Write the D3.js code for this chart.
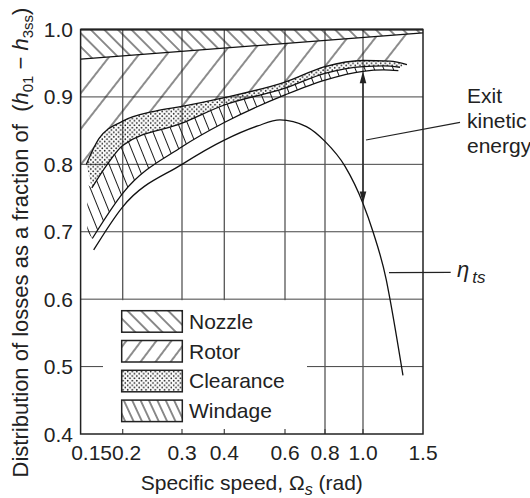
<!DOCTYPE html>
<html><head><meta charset="utf-8">
<script src="https://cdn.jsdelivr.net/npm/d3@7"></script>
<style>
body{margin:0;background:#fff}
svg{display:block}
text{font-family:"Liberation Sans",Arial,Helvetica,sans-serif;fill:#222}
</style>
</head><body>
<svg id="c" width="530" height="498"></svg>
<script>
// ---------- data ----------
const xTicks=[0.15,0.2,0.3,0.4,0.6,0.8,1.0,1.5];
const xTickLabels=["0.15","0.2","0.3","0.4","0.6","0.8","1.0","1.5"];
const yTicks=[0.4,0.5,0.6,0.7,0.8,0.9,1.0];
const yTickLabels=["0.4","0.5","0.6","0.7","0.8","0.9","1.0"];
const nozzleLine=[[0.15,0.956],[1.5,0.995]];
const clearanceTop=[[0.156,0.80],[0.17,0.838],[0.2,0.864],[0.25,0.879],[0.3,0.886],[0.4,0.899],[0.6,0.922],[0.8,0.945],[1.0,0.954],[1.2,0.953],[1.346,0.948]];
const clearanceBottom=[[0.162,0.765],[0.18,0.80],[0.2,0.828],[0.3,0.861],[0.4,0.888],[0.6,0.913],[0.8,0.935],[1.0,0.945],[1.15,0.946],[1.284,0.944]];
const windageBottom=[[0.1625,0.69],[0.2,0.757],[0.3,0.826],[0.4,0.862],[0.6,0.903],[0.8,0.925],[1.0,0.938],[1.15,0.940],[1.27,0.939]];
const etaTs=[[0.164,0.673],[0.2,0.737],[0.3,0.80],[0.4,0.836],[0.5,0.857],[0.58,0.866],[0.7,0.856],[0.8,0.834],[0.9,0.797],[1.0,0.742],[1.07,0.70],[1.17,0.629],[1.2,0.60],[1.31,0.487]];
const rotorLeftBottom=0.80;
const windageLeftX=0.157;
const arrowX=1.0;
const legendItems=["Nozzle","Rotor","Clearance","Windage"];

// ---------- setup ----------
const svg=d3.select("#c");
const x=d3.scaleLog().domain(xTicks).range([80.6,122.7,182,224.3,285,325,363,423]);
const y=d3.scaleLinear().domain([0.4,1.0]).range([434,29.5]);
const X0=x(0.15),X1=x(1.5),Y0=y(0.4),Y1=y(1.0);
const line=d3.line().x(d=>x(d[0])).y(d=>y(d[1])).curve(d3.curveMonotoneX);

const defs=svg.append("defs");
function hatch(id,spacing,angle,sw){
  const p=defs.append("pattern").attr("id",id).attr("patternUnits","userSpaceOnUse")
    .attr("width",spacing).attr("height",spacing).attr("patternTransform",`rotate(${angle})`);
  p.append("line").attr("x1",spacing/2).attr("y1",-1).attr("x2",spacing/2).attr("y2",spacing+1)
    .attr("stroke","#1a1a1a").attr("stroke-width",sw);
}
hatch("nozzle",9.6,-45,1);
hatch("rotor",22,38,1);
hatch("windage",8.8,-22,1);
hatch("rotorL",12,37,1);
hatch("windageL",7.6,-25,1);
const dp=defs.append("pattern").attr("id","dots").attr("patternUnits","userSpaceOnUse").attr("width",4.6).attr("height",4.6);
dp.append("circle").attr("cx",1.15).attr("cy",1.15).attr("r",0.85).attr("fill","#1a1a1a");
dp.append("circle").attr("cx",3.45).attr("cy",3.45).attr("r",0.85).attr("fill","#1a1a1a");

function sample(data){
  const p=svg.append("path").attr("d",line(data));
  const n=p.node(),L=n.getTotalLength(),pts=[];
  for(let s=0;s<L;s+=1){const q=n.getPointAtLength(s);pts.push([q.x,q.y]);}
  const e=n.getPointAtLength(L);pts.push([e.x,e.y]);
  p.remove();return pts;
}
const P=(a)=>"M"+a.map(p=>p[0].toFixed(2)+","+p[1].toFixed(2)).join("L")+"Z";

// ---------- grid ----------
const grid=svg.append("g").attr("stroke","#444").attr("stroke-width",1);
yTicks.filter(v=>v>0.4&&v<1.0).forEach(v=>grid.append("line").attr("x1",X0).attr("x2",X1).attr("y1",y(v)).attr("y2",y(v)));
xTicks.filter(v=>v>0.15&&v<1.5).forEach(v=>grid.append("line").attr("x1",x(v)).attr("x2",x(v)).attr("y1",Y1).attr("y2",Y0).attr("stroke","#555").attr("stroke-width",1.3));

// legend background
const legX0=103,legX1=307;
svg.append("rect").attr("x",legX0).attr("y",y(0.6)+1).attr("width",legX1-legX0).attr("height",Y0-y(0.6)-1).attr("fill","#fff");
// bottom ticks
xTicks.filter(v=>v>0.15&&v<1.5).forEach(v=>svg.append("line").attr("x1",x(v)).attr("x2",x(v)).attr("y1",Y0).attr("y2",Y0-5).attr("stroke","#444").attr("stroke-width",1.2));

// ---------- regions ----------
const sB=sample(clearanceTop),sC=sample(clearanceBottom),sD=sample(windageBottom);
const nozzlePoly=[[X0,Y1],[X1,Y1],[X1,y(nozzleLine[1][1])],[X0,y(nozzleLine[0][1])]];
svg.append("path").attr("d",P(nozzlePoly)).attr("fill","url(#nozzle)");
const rotorPoly=[[X0,y(nozzleLine[0][1])],[X1,y(nozzleLine[1][1])]].concat(sB.slice().reverse()).concat([[X0,y(rotorLeftBottom)]]);
svg.append("path").attr("d",P(rotorPoly)).attr("fill","url(#rotor)");
svg.append("path").attr("d",P(sB.concat(sC.slice().reverse()))).attr("fill","url(#dots)");
const wl=x(windageLeftX);
const windPoly=sC.concat(sD.slice().reverse()).concat([[wl,y(0.70)],[wl,y(0.77)]]);
svg.append("path").attr("d",P(windPoly)).attr("fill","url(#windage)");

// ---------- curves ----------
const cg=svg.append("g").attr("fill","none").attr("stroke","#111").attr("stroke-width",1.3);
cg.append("path").attr("d",d3.line().x(d=>x(d[0])).y(d=>y(d[1]))(nozzleLine));
[clearanceTop,clearanceBottom,windageBottom,etaTs].forEach(c=>cg.append("path").attr("d",line(c)));

// frame
svg.append("rect").attr("x",X0).attr("y",Y1).attr("width",X1-X0).attr("height",Y0-Y1).attr("fill","none").attr("stroke","#222").attr("stroke-width",1.5);
svg.append("line").attr("x1",X0).attr("x2",X1).attr("y1",Y1).attr("y2",Y1).attr("stroke","#222").attr("stroke-width",2.2);

// ---------- arrow ----------
const aTop=y(windageBottom.find(d=>d[0]===arrowX)[1]);
const aBot=y(etaTs.find(d=>d[0]===arrowX)[1]);
const ax=x(arrowX);
svg.append("line").attr("x1",ax).attr("x2",ax).attr("y1",aTop+6).attr("y2",aBot-6).attr("stroke","#333").attr("stroke-width",1.6);
svg.append("path").attr("d",`M${ax},${aTop}L${ax-3.3},${aTop+12}L${ax+3.3},${aTop+12}Z`).attr("fill","#222");
svg.append("path").attr("d",`M${ax},${aBot}L${ax-3.3},${aBot-12}L${ax+3.3},${aBot-12}Z`).attr("fill","#222");

// annotations
svg.append("line").attr("x1",ax+3).attr("y1",140).attr("x2",460).attr("y2",122.3).attr("stroke","#222").attr("stroke-width",1.2);
["Exit","kinetic","energy"].forEach((t,i)=>svg.append("text").attr("x",467).attr("y",103+i*25).attr("font-size",21).text(t));
svg.append("line").attr("x1",389).attr("y1",272.7).attr("x2",450.7).attr("y2",272.3).attr("stroke","#222").attr("stroke-width",1.2);
const eta=svg.append("text").attr("x",457).attr("y",277).attr("font-size",22).attr("font-style","italic");
eta.append("tspan").text("η");
eta.append("tspan").attr("dx",3).attr("dy",6).attr("font-size",17).text("ts");

// ---------- legend ----------
const legFills=["url(#nozzle)","url(#rotorL)","url(#dots)","url(#windageL)"];
legendItems.forEach((t,i)=>{
  const by=310.7+i*29.8;
  svg.append("rect").attr("x",121.7).attr("y",by).attr("width",60.6).attr("height",21.5).attr("fill","#fff").attr("stroke","none");
  svg.append("rect").attr("x",121.7).attr("y",by).attr("width",60.6).attr("height",21.5).attr("fill",legFills[i]).attr("stroke","#222").attr("stroke-width",1.5);
  svg.append("text").attr("x",189).attr("y",by+18).attr("font-size",21).text(t);
});

// ---------- axes labels ----------
const xDx=[11,4,0,0,0,0,0,0];
xTicks.forEach((v,i)=>svg.append("text").attr("x",x(v)+xDx[i]).attr("y",460).attr("text-anchor","middle").attr("font-size",21).text(xTickLabels[i]));
yTicks.forEach((v,i)=>svg.append("text").attr("x",73).attr("y",y(v)).attr("dy","0.36em").attr("text-anchor","end").attr("font-size",21).text(yTickLabels[i]));

const xt=svg.append("text").attr("x",(X0+X1)/2).attr("y",490).attr("text-anchor","middle").attr("font-size",21);
xt.append("tspan").text("Specific speed, Ω");
xt.append("tspan").attr("dy",5).attr("font-size",16).attr("font-style","italic").text("s");
xt.append("tspan").attr("dy",-5).text(" (rad)");

const yt=svg.append("text").attr("transform","translate(28,242.5) rotate(-90)").attr("text-anchor","middle").attr("font-size",22).attr("xml:space","preserve");
yt.append("tspan").text("Distribution of losses as a fraction of  (");
yt.append("tspan").attr("font-style","italic").text("h");
yt.append("tspan").attr("dy",5).attr("font-size",15).text("01");
yt.append("tspan").attr("dy",-5).text(" − ");
yt.append("tspan").attr("font-style","italic").text("h");
yt.append("tspan").attr("dy",5).attr("font-size",15).text("3ss");
yt.append("tspan").attr("dy",-5).text(")");
</script>
</body></html>
